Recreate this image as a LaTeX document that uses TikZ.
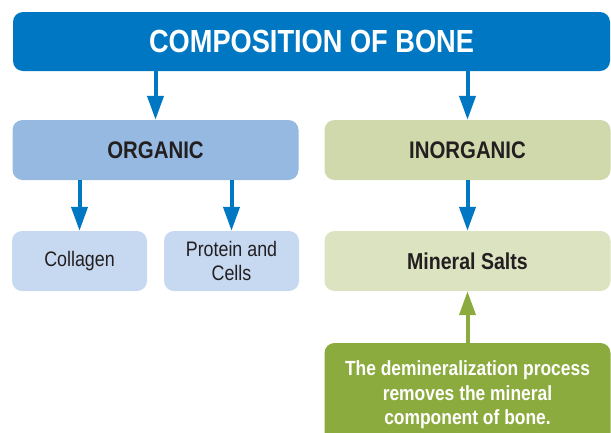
\documentclass[tikz,border=0pt]{standalone}
\usepackage{fontspec}
\setmainfont{Liberation Sans}[FakeStretch=0.85]
\usepackage{xcolor}
\usepackage{tikz}
\usetikzlibrary{arrows.meta, positioning}

\definecolor{boneblue}{HTML}{0077C3}
\definecolor{orgblue}{HTML}{95B9E1}
\definecolor{orglight}{HTML}{C6D9F1}
\definecolor{inorgolive}{HTML}{D0D9AB}
\definecolor{inorglight}{HTML}{DCE3C0}
\definecolor{notegreen}{HTML}{8CAB3E}
\definecolor{inktext}{HTML}{231F20}

\begin{document}
\begin{tikzpicture}[
  x=1pt, y=-1pt,
  box/.style={rounded corners=10pt, inner sep=0pt, align=center, text=inktext},
  titlebox/.style={box, fill=boneblue, text=white, minimum width=597pt, minimum height=59pt,
    font=\bfseries\fontsize{32}{36}\selectfont},
  groupbox/.style={box, minimum width=286pt, minimum height=60pt,
    font=\bfseries\fontsize{24}{28}\selectfont},
  leafbox/.style={box, minimum height=60pt, font=\fontsize{21}{24}\selectfont},
  notebox/.style={box, fill=notegreen, text=white, minimum width=286pt, minimum height=104pt,
    font=\bfseries\fontsize{20.5}{24.5}\selectfont},
  arr/.style={-{Triangle[width=16pt, length=24pt]}, line width=4pt}
]
  \useasboundingbox (0,0) rectangle (611,432);
  \clip (0,0) rectangle (611,432);

  % Top box
  \node[titlebox] (bone) at (311.5, 41.5) {COMPOSITION OF BONE};

  % Two groups
  \node[groupbox, fill=orgblue] (organic) at (155.5, 150) {ORGANIC};
  \node[groupbox, fill=inorgolive] (inorganic) at (467.5, 150) {INORGANIC};

  % Leaves
  \node[leafbox, fill=orglight, minimum width=135pt] (collagen) at (79.5, 261) {Collagen};
  \node[leafbox, fill=orglight, minimum width=135pt] (protein) at (231.5, 261) {Protein and\\Cells};
  \node[leafbox, fill=inorglight, minimum width=286pt, font=\bfseries\fontsize{23}{26}\selectfont]
    (mineral) at (467.5, 261) {Mineral Salts};

  % Note
  \node[notebox] (note) at (467.5, 395) {The demineralization process\\removes the mineral\\component of bone.};

  % Arrows
  \draw[arr, boneblue] (organic.north |- bone.south) -- (organic.north);
  \draw[arr, boneblue] (inorganic.north |- bone.south) -- (inorganic.north);
  \draw[arr, boneblue] (collagen.north |- organic.south) -- (collagen.north);
  \draw[arr, boneblue] (protein.north |- organic.south) -- (protein.north);
  \draw[arr, boneblue] (inorganic.south) -- (mineral.north);
  \draw[arr, notegreen] (note.north) -- (mineral.south);
\end{tikzpicture}
\end{document}
